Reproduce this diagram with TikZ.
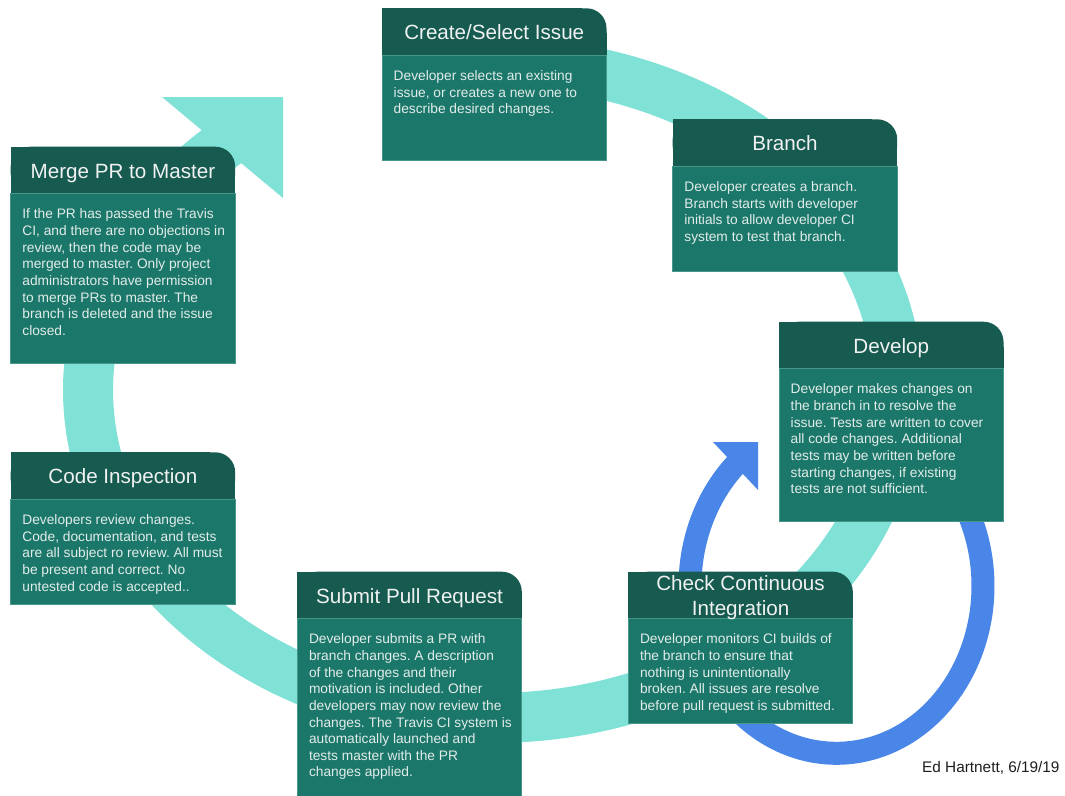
\documentclass[tikz,border=0pt]{standalone}
\usepackage{fontspec}
\setmainfont{Liberation Sans}
\definecolor{hdr}{RGB}{22,90,80}
\definecolor{bodyc}{RGB}{27,119,106}
\definecolor{edgec}{RGB}{70,150,138}
\definecolor{ringc}{RGB}{128,226,214}
\definecolor{loopblue}{RGB}{74,134,232}
\definecolor{txtc}{RGB}{226,236,233}
\definecolor{titlec}{RGB}{240,242,241}
\definecolor{sigc}{RGB}{30,30,30}
\tikzset{
  titletext/.style={text=titlec, font=\fontsize{20.7}{24.5}\selectfont\frenchspacing, inner sep=0pt, align=center},
  bodytext/.style={text=txtc, font=\fontsize{13.8}{16.7}\selectfont\frenchspacing, inner sep=0pt, align=left},
  sigtext/.style={text=sigc, font=\fontsize{15.4}{18}\selectfont, inner sep=0pt},
  ringband/.style={draw=ringc, line width=50bp, line cap=butt},
  blueband/.style={draw=loopblue, line width=23bp, line cap=butt},
}
% #1 name, #2 left x, #3 top y, #4 bottom y, #5 title, #6 body, #7 title top offset
\newcommand{\stepcard}[7]{%
  \filldraw[fill=bodyc, draw=edgec, line width=0.8bp] (#2,#3+47) rectangle (#2+224.5,#4);
  \fill[hdr, rounded corners=20bp] (#2,#3) rectangle (#2+224.5,#3+47);
  \fill[hdr] (#2,#3) rectangle (#2+199.5,#3+47);
  \fill[hdr] (#2,#3+25) rectangle (#2+224.5,#3+47);
  \draw[edgec, line width=0.8bp] (#2,#3+47) -- (#2+224.5,#3+47);
  \node[titletext, anchor=north] (#1-title) at (#2+112.25,#3+#7) {\strut #5};
  \node[bodytext, anchor=north west] (#1-text) at (#2+11.5,#3+47+13.3) {\strut #6};
}
\begin{document}
\frenchspacing
\begin{tikzpicture}[x=1bp,y=-1bp]
\fill[white] (0,0) rectangle (1065,796);
\path[use as bounding box] (0,0) rectangle (1065,796);

% big teal cycle
\draw[ringband] plot[domain=260:589, samples=260] ({493+405*cos(\x)},{390+328*sin(\x)});
\fill[ringc] (162,97) -- (283,97) -- (283,198) -- cycle;

% blue loop back to Develop
\draw[blueband] plot[domain=300:588, samples=220] ({836.5+146.5*cos(\x)},{586+167.3*sin(\x)});
\fill[loopblue] (713,442) -- (758,442) -- (758,490) -- cycle;

\stepcard{create}{382}{8.3}{160.7}{Create/Select Issue}{Developer selects an existing\\issue, or creates a new one to\\describe desired changes.}{14.35}
\stepcard{branch}{672.7}{119.3}{271.7}{Branch}{Developer creates a branch.\\Branch starts with developer\\initials to allow developer CI\\system to test that branch.}{14.35}
\stepcard{develop}{779}{321.7}{521}{Develop}{Developer makes changes on\\the branch in to resolve the\\issue. Tests are written to cover\\all code changes. Additional\\tests may be written before\\starting changes, if existing\\tests are not sufficient.}{14.35}
\stepcard{checkci}{628.3}{571.7}{723.3}{Check Continuous\\Integration}{Developer monitors CI builds of\\the branch to ensure that\\nothing is unintentionally\\broken. All issues are resolve\\before pull request is submitted.}{1.85}
\stepcard{submit}{297.3}{571.7}{800}{Submit Pull Request}{Developer submits a PR with\\branch changes. A description\\of the changes and their\\motivation is included. Other\\developers may now review the\\changes. The Travis CI system is\\automatically launched and\\tests master with the PR\\changes applied.}{14.35}
\stepcard{inspect}{10.7}{452.3}{604.3}{Code Inspection}{Developers review changes.\\Code, documentation, and tests\\are all subject ro review. All must\\be present and correct. No\\untested code is accepted..}{14.35}
\stepcard{merge}{10.7}{146.7}{363.3}{Merge PR to Master}{If the PR has passed the Travis\\CI, and there are no objections in\\review, then the code may be\\merged to master. Only project\\administrators have permission\\to merge PRs to master. The\\branch is deleted and the issue\\closed.}{14.35}

\node[sigtext, anchor=base west] (sig) at (922,772) {Ed Hartnett, 6/19/19};
\end{tikzpicture}
\end{document}
